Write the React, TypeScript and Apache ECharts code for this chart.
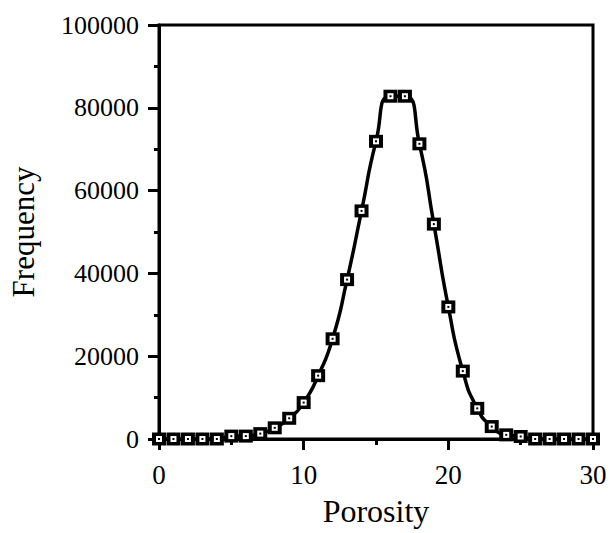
import React, { useEffect, useRef } from "react";
import * as echarts from "echarts";

const porosity = [0, 1, 2, 3, 4, 5, 6, 7, 8, 9, 10, 11, 12, 13, 14, 15, 16, 17, 18, 19, 20, 21, 22, 23, 24, 25, 26, 27, 28, 29, 30];
const frequency = [0, 0, 0, 0, 0, 700, 700, 1300, 2700, 5000, 8800, 15300, 24200, 38500, 55100, 71900, 82800, 82800, 71300, 51900, 31900, 16400, 7400, 3000, 1000, 600, 0, 0, 0, 0, 0];

const xTitle = "Porosity";
const yTitle = "Frequency";

export default function App() {
  const ref = useRef<HTMLDivElement>(null);
  useEffect(() => {
    if (!ref.current) return;
    document.body.style.margin = "0";
    const chart = echarts.init(ref.current, null, { renderer: "svg" });
    const pts = porosity.map((x, i) => [x, frequency[i]]);
    const font = "'Liberation Serif', 'Times New Roman', serif";
    chart.setOption({
      animation: false,
      backgroundColor: "#ffffff",
      grid: {
        left: 155,
        right: 17,
        top: 25,
        bottom: 94,
        show: true,
        borderColor: "#000",
        borderWidth: 3,
        backgroundColor: "transparent",
      },
      xAxis: {
        type: "value",
        min: 0,
        max: 30,
        interval: 10,
        name: xTitle,
        nameLocation: "middle",
        nameGap: 56,
        nameTextStyle: { fontFamily: font, fontSize: 32, color: "#000" },
        axisLine: { show: true, lineStyle: { color: "#000", width: 3 } },
        axisTick: { show: true, length: 11, lineStyle: { color: "#000", width: 3 } },
        minorTick: { show: true, splitNumber: 2, length: 6, lineStyle: { color: "#000", width: 3 } },
        splitLine: { show: false },
        axisLabel: { fontFamily: font, fontSize: 27, color: "#000", margin: 22 },
      },
      yAxis: {
        type: "value",
        min: 0,
        max: 100000,
        interval: 20000,
        name: yTitle,
        nameLocation: "middle",
        nameGap: 120,
        nameTextStyle: { fontFamily: font, fontSize: 31, color: "#000" },
        axisLine: { show: true, lineStyle: { color: "#000", width: 3 } },
        axisTick: { show: true, length: 11, lineStyle: { color: "#000", width: 3 } },
        minorTick: { show: true, splitNumber: 2, length: 5, lineStyle: { color: "#000", width: 3 } },
        splitLine: { show: false },
        axisLabel: {
          fontFamily: font,
          fontSize: 26,
          color: "#000",
          margin: 20,
          formatter: (v: number) => String(v),
        },
      },
      series: [
        {
          type: "line",
          data: pts,
          smooth: 0.6,
          showSymbol: false,
          symbol: "none",
          lineStyle: { color: "#000", width: 3.5 },
          z: 2,
        },
        {
          type: "scatter",
          data: pts,
          symbol: "rect",
          symbolSize: [14, 13],
          itemStyle: { color: "#000", opacity: 1 },
          z: 3,
        },
        {
          type: "scatter",
          data: pts,
          symbol: "rect",
          symbolSize: 6,
          itemStyle: { color: "#fff", opacity: 1 },
          z: 4,
        },
        {
          type: "scatter",
          data: pts,
          symbol: "rect",
          symbolSize: 2,
          itemStyle: { color: "#000", opacity: 1 },
          z: 5,
        },
      ],
    });
    return () => chart.dispose();
  }, []);
  return <div ref={ref} style={{ width: 610, height: 533 }} />;
}
